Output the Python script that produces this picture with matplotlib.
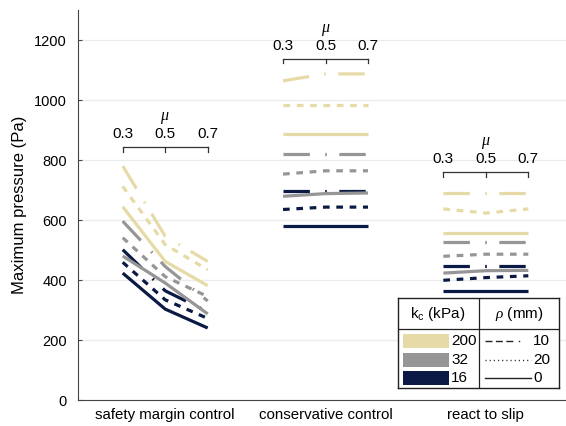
import matplotlib
matplotlib.use("Agg")
import matplotlib.pyplot as plt
from matplotlib.patches import Rectangle
from matplotlib.lines import Line2D

plt.rcParams['font.family'] = ['Liberation Sans', 'DejaVu Sans']
plt.rcParams['mathtext.fontset'] = 'custom'
plt.rcParams['mathtext.it'] = 'Liberation Serif:italic'
plt.rcParams['mathtext.rm'] = 'Liberation Sans'
plt.rcParams['lines.scale_dashes'] = False

# ---- data -------------------------------------------------------------
strategies = ['safety margin control', 'conservative control', 'react to slip']
mu_values = [0.3, 0.5, 0.7]
kc_levels = [200, 32, 16]          # kPa
rho_levels = [10, 20, 0]           # mm

# maximum pressure (Pa) at mu = 0.3, 0.5, 0.7 ; rows follow rho_levels
safety_kc200 = [[780, 546, 462], [712, 518, 434], [644, 462, 381]]
safety_kc32 = [[596, 445, 330], [541, 411, 345], [480, 390, 287]]
safety_kc16 = [[501, 364, 294], [459, 334, 272], [423, 303, 240]]

conservative_kc200 = [[1064, 1087, 1087], [985, 985, 985], [888, 888, 888]]
conservative_kc32 = [[820, 820, 820], [753, 764, 764], [679, 688, 690]]
conservative_kc16 = [[696, 696, 696], [635, 643, 643], [579, 579, 579]]

react_kc200 = [[690, 690, 690], [637, 623, 637], [557, 557, 557]]
react_kc32 = [[526, 526, 526], [479, 486, 486], [423, 431, 432]]
react_kc16 = [[448, 448, 448], [399, 408, 414], [362, 362, 362]]

groups = [
    {200: safety_kc200, 32: safety_kc32, 16: safety_kc16},
    {200: conservative_kc200, 32: conservative_kc32, 16: conservative_kc16},
    {200: react_kc200, 32: react_kc32, 16: react_kc16},
]

# ---- style ------------------------------------------------------------
kc_colors = {200: '#E6DAA6', 32: '#969696', 16: '#0B1A44'}
rho_styles = {
    10: (0, (19, 11, 1.2, 9)),     # dash-dot
    20: (0, (4.8, 4.8)),           # dotted (drawn thick)
    0: '-',
}
mu_offset = 0.265
bracket_y = [842, 1136, 759]

fig = plt.figure(figsize=(5.66, 4.26), dpi=100)
W, H = 566, 426
ax = fig.add_axes([78 / W, (H - 400) / H, 488 / W, 390 / H])

for gi, grp in enumerate(groups):
    xs = [gi + 1 + (m - 0.5) / 0.2 * mu_offset for m in mu_values]
    for kc in [16, 32, 200]:
        for ri, rho in enumerate(rho_levels):
            ax.plot(xs, grp[kc][ri], color=kc_colors[kc], lw=2.3,
                    linestyle=rho_styles[rho], solid_capstyle='butt',
                    dash_capstyle='butt', clip_on=False)
    # mu bracket above each group
    by = bracket_y[gi]
    ax.plot([xs[0], xs[-1]], [by, by], color='#333333', lw=0.9)
    for x, m in zip(xs, mu_values):
        ax.plot([x, x], [by, by - 14], color='#333333', lw=0.9)
        ax.text(x, by + 20, f'{m:.1f}', ha='center', va='bottom', fontsize=11)
    ax.text(xs[1], by + 70, r'$\mu$', ha='center', va='bottom', fontsize=11.5)

ax.set_xlim(0.456, 3.5)
ax.set_ylim(0, 1300)
ax.set_yticks(range(0, 1201, 200))
ax.set_xticks([1, 2, 3])
ax.set_xticklabels(strategies, fontsize=10.8)
ax.tick_params(axis='y', labelsize=10.5, direction='in', length=3,
               color='#444444', pad=8)
ax.tick_params(axis='x', length=0, pad=6)
ax.grid(axis='y', color='#EBEBEB', lw=0.9)
ax.set_axisbelow(True)
for s in ['top', 'right']:
    ax.spines[s].set_visible(False)
for s in ['left', 'bottom']:
    ax.spines[s].set_color('#444444')
    ax.spines[s].set_linewidth(0.8)
ax.set_ylabel('Maximum pressure (Pa)', fontsize=12, labelpad=5)

# ---- table-style legend -------------------------------------------------
lx, ly, lw_, lh = 398, 298, 161, 90
lax = fig.add_axes([lx / W, (H - ly - lh) / H, lw_ / W, lh / H])
lax.set_xlim(0, lw_)
lax.set_ylim(lh, 0)
lax.set_facecolor('white')
for s in lax.spines.values():
    s.set_color('#222222')
    s.set_linewidth(1.0)
lax.set_xticks([])
lax.set_yticks([])
lax.plot([81, 81], [0, lh], color='#222222', lw=0.9)
lax.plot([0, lw_], [31, 31], color='#222222', lw=0.9)
lax.text(40, 16, r'k$_\mathregular{c}$ (kPa)', ha='center', va='center', fontsize=11)
lax.text(121, 16, r'$\rho$ (mm)', ha='center', va='center', fontsize=11)
row_y = [43, 61.5, 80]
legend_dashes = {
    10: (0, (5, 2.5, 5, 2.5, 5, 4, 1, 10)),
    20: (0, (0.8, 2.2)),
    0: '-',
}
for ry, kc, rho in zip(row_y, kc_levels, rho_levels):
    lax.add_patch(Rectangle((5, ry - 7), 46, 14, color=kc_colors[kc], lw=0))
    lax.text(53, ry, str(kc), ha='left', va='center', fontsize=11)
    lax.add_line(Line2D([87, 133], [ry, ry], color='#222222', lw=1.0,
                        linestyle=legend_dashes[rho]))
    lax.text(135, ry, str(rho), ha='left', va='center', fontsize=11)

fig.savefig('out.png', dpi=100)
